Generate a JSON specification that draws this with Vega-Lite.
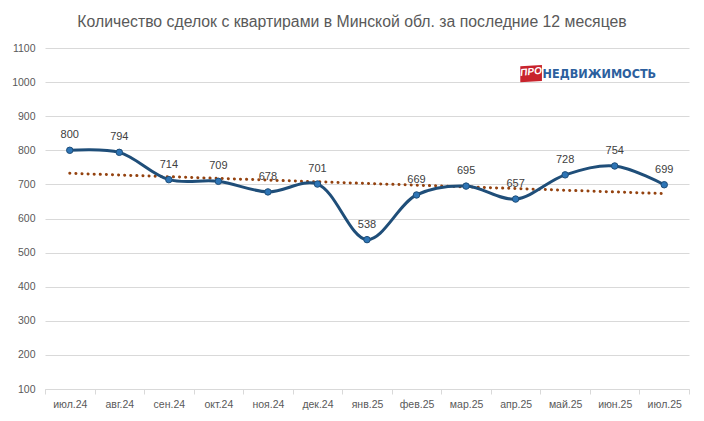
{
  "$schema": "https://vega.github.io/schema/vega-lite/v6.json",
  "description": "Количество сделок с квартирами в Минской обл. за последние 12 месяцев",
  "autosize": {"type": "none"},
  "width": 644,
  "height": 341,
  "padding": {"left": 45, "top": 48, "right": 15, "bottom": 32},
  "background": "white",
  "datasets": {
    "deals": [
      {"i": 0, "month": "июл.24", "count": 800},
      {"i": 1, "month": "авг.24", "count": 794},
      {"i": 2, "month": "сен.24", "count": 714},
      {"i": 3, "month": "окт.24", "count": 709},
      {"i": 4, "month": "ноя.24", "count": 678},
      {"i": 5, "month": "дек.24", "count": 701},
      {"i": 6, "month": "янв.25", "count": 538},
      {"i": 7, "month": "фев.25", "count": 669},
      {"i": 8, "month": "мар.25", "count": 695},
      {"i": 9, "month": "апр.25", "count": 657},
      {"i": 10, "month": "май.25", "count": 728},
      {"i": 11, "month": "июн.25", "count": 754},
      {"i": 12, "month": "июл.25", "count": 699}
    ]
  },
  "data": {"name": "deals"},
  "title": {
    "text": "Количество сделок с квартирами в Минской обл. за последние 12 месяцев",
    "font": "Liberation Sans",
    "fontSize": 15.8,
    "fontWeight": "normal",
    "color": "#595959",
    "anchor": "middle",
    "dx": -15,
    "offset": 12
  },
  "encoding": {
    "x": {
      "field": "month",
      "type": "ordinal",
      "scale": {
        "domain": ["июл.24", "авг.24", "сен.24", "окт.24", "ноя.24", "дек.24", "янв.25", "фев.25", "мар.25", "апр.25", "май.25", "июн.25", "июл.25"],
        "paddingInner": 0,
        "paddingOuter": 0
      },
      "title": null,
      "axis": {
        "labelAngle": 0,
        "tickBand": "extent",
        "tickSize": 5,
        "tickColor": "#D9D9D9",
        "domainColor": "#D9D9D9",
        "labelColor": "#595959",
        "labelFont": "Liberation Sans",
        "labelFontSize": 10.5,
        "labelPadding": 5
      }
    },
    "y": {
      "field": "count",
      "type": "quantitative",
      "scale": {"domain": [100, 1100], "nice": false, "zero": false},
      "title": null,
      "axis": {
        "values": [100, 200, 300, 400, 500, 600, 700, 800, 900, 1000, 1100],
        "format": "d",
        "domain": false,
        "ticks": false,
        "gridColor": "#D9D9D9",
        "labelColor": "#595959",
        "labelFont": "Liberation Sans",
        "labelFontSize": 10.5,
        "labelPadding": 10
      }
    }
  },
  "layer": [
    {
      "transform": [
        {"regression": "count", "on": "i"},
        {"lookup": "i", "from": {"data": {"name": "deals"}, "key": "i", "fields": ["month"]}}
      ],
      "mark": {
        "type": "line",
        "color": "#94420F",
        "strokeWidth": 3,
        "strokeCap": "round",
        "strokeDash": [0.1, 6]
      }
    },
    {
      "mark": {
        "type": "line",
        "interpolate": "catmull-rom",
        "color": "#1F4E79",
        "strokeWidth": 3
      }
    },
    {
      "mark": {
        "type": "point",
        "filled": true,
        "size": 42,
        "fill": "#2E75B6",
        "stroke": "#1F4E79",
        "strokeWidth": 1,
        "opacity": 1
      }
    },
    {
      "mark": {
        "type": "text",
        "baseline": "bottom",
        "dy": -10,
        "font": "Liberation Sans",
        "fontSize": 11,
        "color": "#404040"
      },
      "encoding": {"text": {"field": "count", "type": "quantitative"}}
    },
    {
      "transform": [{"filter": "datum.i == 9"}],
      "encoding": {
        "y": {"datum": 1025}
      },
      "layer": [
        {
          "mark": {
            "type": "point",
            "shape": "M-1.25,-0.85 L1.25,-1 L1.25,0.85 L-1.25,1 Z",
            "size": 300,
            "filled": true,
            "fill": "#C8232C",
            "opacity": 1,
            "xOffset": 15.5
          }
        },
        {
          "mark": {
            "type": "text",
            "font": "Liberation Sans",
            "fontSize": 10,
            "fontStyle": "italic",
            "fontWeight": "bold",
            "color": "white",
            "angle": -6,
            "dx": 15.5,
            "baseline": "middle"
          },
          "encoding": {"text": {"value": "ПРО"}}
        },
        {
          "mark": {
            "type": "text",
            "font": "DejaVu Sans Condensed",
            "fontSize": 12.5,
            "fontWeight": "bold",
            "color": "#2C5F9E",
            "align": "left",
            "baseline": "middle",
            "dx": 27
          },
          "encoding": {"text": {"value": "НЕДВИЖИМОСТЬ"}}
        }
      ]
    }
  ],
  "config": {"view": {"stroke": null}}
}
